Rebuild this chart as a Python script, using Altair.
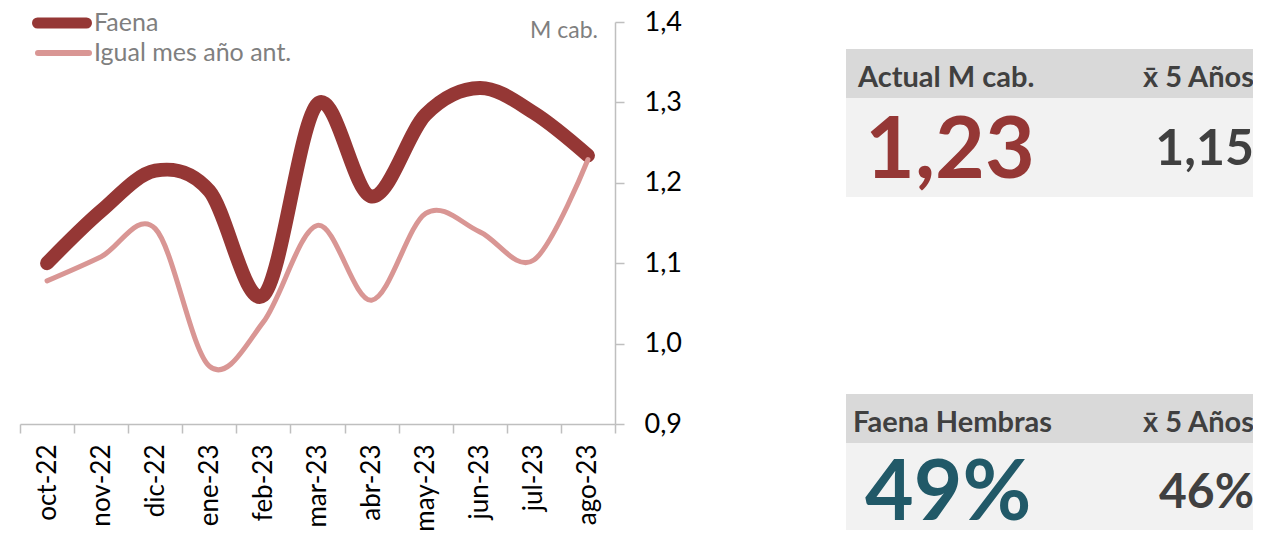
import altair as alt
import pandas as pd

# ---- data ----
months = ["oct-22", "nov-22", "dic-22", "ene-23", "feb-23", "mar-23",
          "abr-23", "may-23", "jun-23", "jul-23", "ago-23"]
faena = [1.100, 1.165, 1.215, 1.190, 1.060, 1.298, 1.183, 1.285, 1.318, 1.287, 1.234]
igual = [1.078, 1.108, 1.143, 0.972, 1.027, 1.147, 1.054, 1.162, 1.139, 1.104, 1.229]
y_ticks = [0.9, 1.0, 1.1, 1.2, 1.3, 1.4]
series_names = ["Faena", "Igual mes año ant."]
series_colors = ["#953735", "#D99694"]
unit_label = "M cab."
kpi_headers = ["Actual M cab.", "Faena Hembras"]
kpi_avg_label = "x\u0304 5 Años"
kpi_current = ["1,23", "49%"]
kpi_avg = ["1,15", "46%"]
kpi_colors = ["#953735", "#215968"]

FONT = "Lato"
W, H = 595, 402

df = pd.DataFrame({
    "mes": months * 2,
    "valor": faena + igual,
    "serie": [series_names[0]] * len(months) + [series_names[1]] * len(months),
})

x_axis = alt.Axis(
    orient="bottom", labelAngle=270, labelFont=FONT, labelFontSize=26,
    labelColor="#000000", labelPadding=11, tickSize=9, tickBand="extent",
    domainColor="#BFBFBF", tickColor="#BFBFBF", domainWidth=1.5, tickWidth=1.5,
    grid=False, title=None,
)
y_axis = alt.Axis(
    orient="right", values=y_ticks, labelFont=FONT, labelFontSize=27,
    labelColor="#000000", labelPadding=20, tickSize=9,
    domainColor="#BFBFBF", tickColor="#BFBFBF", domainWidth=1.5, tickWidth=1.5,
    grid=False, title=None,
    labelExpr="replace(format(datum.value, '.1f'), '.', ',')",
)
x_enc = alt.X("mes:N", sort=months,
              scale=alt.Scale(type="band", paddingInner=0, paddingOuter=0),
              bandPosition=0.5, axis=x_axis)
y_enc = alt.Y("valor:Q", scale=alt.Scale(domain=[0.9, 1.4], nice=False, zero=False),
              axis=y_axis)

base = alt.Chart(df)
line_faena = base.transform_filter(alt.datum.serie == series_names[0]).mark_line(
    color=series_colors[0], strokeWidth=14, strokeCap="round", strokeJoin="round",
    interpolate="cardinal").encode(x=x_enc, y=y_enc)
line_igual = base.transform_filter(alt.datum.serie == series_names[1]).mark_line(
    color=series_colors[1], strokeWidth=5, strokeCap="round", strokeJoin="round",
    interpolate="cardinal").encode(x=x_enc, y=y_enc)


def one():
    return pd.DataFrame({"a": [0]})


def txt(s, x, y, size, color, align="left", weight="normal", baseline="alphabetic"):
    return alt.Chart(pd.DataFrame({"t": [s]})).mark_text(
        align=align, baseline=baseline, fontSize=size, font=FONT,
        fontWeight=weight, color=color,
    ).encode(x=alt.value(x), y=alt.value(y), text="t:N")


def box(x1, x2, y1, y2, color):
    return alt.Chart(one()).mark_rect(color=color).encode(
        x=alt.value(x1), x2=alt.value(x2), y=alt.value(y1), y2=alt.value(y2))


def seg(x1, x2, y, color, w):
    return alt.Chart(one()).mark_rule(color=color, strokeWidth=w, strokeCap="round").encode(
        x=alt.value(x1), x2=alt.value(x2), y=alt.value(y))


legend = [
    seg(17.5, 66.5, 1, series_colors[0], 11),
    txt(series_names[0], 74, 1, 25, "#7F7F7F", baseline="middle"),
    seg(18, 69, 31, series_colors[1], 6),
    txt(series_names[1], 74, 31, 25, "#7F7F7F", baseline="middle"),
    txt(unit_label, 578, 9, 23, "#7F7F7F", align="right", baseline="middle"),
]

panels = [
    box(826, 1240, 27, 76, "#D9D9D9"),
    box(826, 1240, 76, 175, "#F2F2F2"),
    txt(kpi_headers[0], 838, 65, 29, "#404040", weight="bold"),
    txt(kpi_avg_label, 1234, 65, 29, "#404040", align="right", weight="bold"),
    txt(kpi_current[0], 845, 156, 86, kpi_colors[0], weight="bold"),
    txt(kpi_avg[0], 1234, 143, 50, "#404040", align="right", weight="bold"),
    box(826, 1240, 372, 421, "#D9D9D9"),
    box(826, 1240, 421, 530, "#F2F2F2"),
    txt(kpi_headers[1], 833, 410, 29, "#404040", weight="bold"),
    txt(kpi_avg_label, 1234, 410, 29, "#404040", align="right", weight="bold"),
    txt(kpi_current[1], 845, 498, 84, kpi_colors[1], weight="bold"),
    txt(kpi_avg[1], 1234, 486, 48, "#404040", align="right", weight="bold"),
]

chart = alt.layer(line_faena, line_igual, *legend, *panels).properties(
    width=W, height=H,
    padding={"left": 12, "top": 14, "right": 638, "bottom": 106},
    autosize=alt.AutoSizeParams(type="none"),
    background="white",
).configure_view(strokeWidth=0, stroke="transparent")

chart.save("out.html", embed_options={"renderer": "svg", "actions": False})
